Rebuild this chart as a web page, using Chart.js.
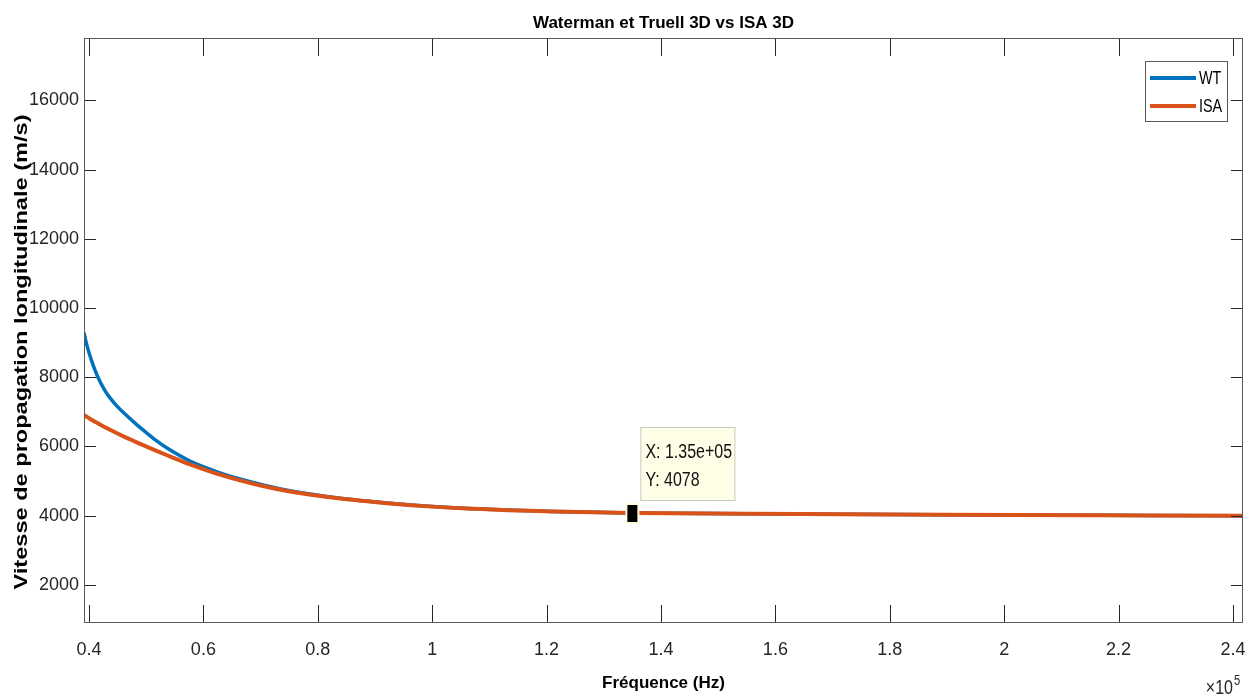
<!DOCTYPE html>
<html>
<head>
<meta charset="utf-8">
<script src="https://cdn.jsdelivr.net/npm/chart.js@4.4.1/dist/chart.umd.min.js"></script>
<style>
  html, body { margin: 0; padding: 0; background: #fff; }
  canvas { display: block; }
</style>
</head>
<body>
<canvas id="speedChart" width="1245" height="696"></canvas>
<script>
// Frequencies (Hz) and longitudinal speeds (m/s)
const freqHz   = [39130, 39475, 39825, 40175, 40525, 41049, 41923, 42798, 43672, 44896, 46295, 48043, 49967, 51715, 53639, 57660, 62032, 66403, 70775, 75146, 83889, 92632, 100000, 106096, 121133, 135000, 164320, 188800, 216780, 241750];
const wtSpeed  = [9290, 9028, 8812, 8618, 8445, 8206, 7874, 7614, 7403, 7166, 6936, 6676, 6407, 6176, 5954, 5579, 5290, 5059, 4871, 4718, 4502, 4358, 4265, 4210, 4124, 4078, 4050, 4028, 4012, 4000];
const isaSpeed = [6907, 6872, 6835, 6800, 6765, 6716, 6635, 6557, 6482, 6381, 6271, 6142, 6003, 5879, 5746, 5481, 5232, 5022, 4842, 4698, 4496, 4355, 4262, 4207, 4120, 4078, 4050, 4028, 4012, 4000];
const seriesNames = ["WT", "ISA"];

// Axis ticks
const xTickValues = [40000, 60000, 80000, 100000, 120000, 140000, 160000, 180000, 200000, 220000, 240000];
const yTickValues = [2000, 4000, 6000, 8000, 10000, 12000, 14000, 16000];

// Data tip
const tipFreq = 135000;
const tipSpeed = 4078;

const SANS = "'Liberation Sans', Arial, sans-serif";
const AXIS_COLOR = "#262626";

// Inward ticks on all four sides + box around the axes
const frameTicks = {
  id: "frameTicks",
  afterDatasetsDraw(chart) {
    const { ctx, chartArea: a, scales: { x, y } } = chart;
    ctx.save();
    ctx.strokeStyle = AXIS_COLOR;
    ctx.lineWidth = 1;
    ctx.beginPath();
    x.ticks.forEach(t => {
      const px = Math.round(x.getPixelForValue(t.value)) + 0.5;
      ctx.moveTo(px, a.bottom); ctx.lineTo(px, a.bottom - 18);
      ctx.moveTo(px, a.top); ctx.lineTo(px, a.top + 18);
    });
    y.ticks.forEach(t => {
      const py = Math.round(y.getPixelForValue(t.value)) + 0.5;
      ctx.moveTo(a.left, py); ctx.lineTo(a.left + 12, py);
      ctx.moveTo(a.right, py); ctx.lineTo(a.right - 12, py);
    });
    ctx.stroke();
    ctx.strokeStyle = "#5a5a5a";
    ctx.strokeRect(a.left + 0.5, a.top + 0.5, a.width - 1, a.height - 1);
    ctx.restore();
  }
};

// condensed text helper (the source uses a narrow face)
function narrowText(ctx, text, x, y, font, sx, align) {
  ctx.save();
  ctx.font = font;
  ctx.textAlign = align || "left";
  ctx.translate(x, y);
  ctx.scale(sx, 1);
  ctx.fillText(text, 0, 0);
  ctx.restore();
}

// MATLAB-like data tip
const dataTip = {
  id: "dataTip",
  afterDatasetsDraw(chart) {
    const { ctx, scales: { x, y } } = chart;
    const px = x.getPixelForValue(tipFreq);
    const py = y.getPixelForValue(tipSpeed);
    ctx.save();
    ctx.fillStyle = "#fdfde0";
    ctx.fillRect(px - 7, py - 10, 14, 21);
    ctx.fillStyle = "#000";
    ctx.fillRect(px - 5, py - 8, 10, 17);

    const bx = px + 8, bw = 95, bh = 74, by = py - 12 - bh;
    ctx.fillStyle = "#ffffe8";
    ctx.fillRect(bx, by, bw, bh);
    ctx.strokeStyle = "#c8c8c8";
    ctx.strokeRect(bx + 0.5, by + 0.5, bw - 1, bh - 1);
    const xs = tipFreq.toExponential(2).replace(/e([+-])(\d)$/, "e$10$2");
    ctx.fillStyle = "#111";
    ctx.textBaseline = "middle";
    narrowText(ctx, "X: " + xs, bx + 5, by + 25, "20px " + SANS, 0.8);
    narrowText(ctx, "Y: " + tipSpeed, bx + 5, by + 53, "20px " + SANS, 0.8);
    ctx.restore();
  }
};

// Legend box, y title and the x10^5 exponent
const extras = {
  id: "extras",
  afterDraw(chart) {
    const { ctx, chartArea: a } = chart;
    ctx.save();
    // legend
    const lw = 83, lh = 61, lx = a.right - 15 - lw, ly = a.top + 23;
    ctx.fillStyle = "#fff";
    ctx.fillRect(lx, ly, lw, lh);
    ctx.strokeStyle = "#5a5a5a";
    ctx.lineWidth = 1;
    ctx.strokeRect(lx + 0.5, ly + 0.5, lw - 1, lh - 1);
    chart.data.datasets.forEach((ds, i) => {
      const cy = ly + 17 + i * 28;
      ctx.strokeStyle = ds.borderColor;
      ctx.lineWidth = 4;
      ctx.beginPath();
      ctx.moveTo(lx + 5, cy); ctx.lineTo(lx + 51, cy);
      ctx.stroke();
      ctx.fillStyle = "#000";
      ctx.textBaseline = "middle";
      narrowText(ctx, ds.label, lx + 54, cy + 1, "18px " + SANS, 0.8);
    });

    // y axis title, stretched along its length like the source
    const text = "Vitesse de propagation longitudinale (m/s)";
    ctx.font = "bold 19px " + SANS;
    const w = ctx.measureText(text).width;
    ctx.translate(22, 352);
    ctx.rotate(-Math.PI / 2);
    ctx.scale(475 / w, 1);
    ctx.fillStyle = "#000";
    ctx.textAlign = "center";
    ctx.textBaseline = "middle";
    ctx.fillText(text, 0, 0);
    ctx.restore();

    // exponent label
    ctx.save();
    ctx.fillStyle = AXIS_COLOR;
    ctx.textBaseline = "alphabetic";
    narrowText(ctx, "\u00d710", 1233, 694, "20px " + SANS, 0.8, "right");
    narrowText(ctx, "5", 1234, 685, "14px " + SANS, 0.8, "left");
    ctx.restore();
  }
};

new Chart(document.getElementById("speedChart"), {
  type: "line",
  data: {
    datasets: [
      {
        label: seriesNames[0],
        data: freqHz.map((f, i) => ({ x: f, y: wtSpeed[i] })),
        borderColor: "#0072BD",
        borderWidth: 3.5,
        cubicInterpolationMode: "monotone",
        pointRadius: 0,
        fill: false,
        order: 2
      },
      {
        label: seriesNames[1],
        data: freqHz.map((f, i) => ({ x: f, y: isaSpeed[i] })),
        borderColor: "#D95319",
        borderWidth: 4,
        cubicInterpolationMode: "monotone",
        pointRadius: 0,
        fill: false,
        order: 1
      }
    ]
  },
  options: {
    responsive: false,
    animation: false,
    devicePixelRatio: 1,
    layout: { padding: { left: 0, right: 2, top: 0, bottom: 0 } },
    plugins: {
      legend: { display: false },
      tooltip: { enabled: false },
      title: {
        display: true,
        fullSize: false,
        text: "Waterman et Truell 3D vs ISA 3D",
        color: "#000",
        font: { family: SANS, size: 17, weight: "bold" },
        padding: { top: 13, bottom: 4.6 }
      }
    },
    scales: {
      x: {
        type: "linear",
        min: 39130,
        max: 241750,
        afterBuildTicks(scale) { scale.ticks = xTickValues.map(v => ({ value: v })); },
        grid: { display: false, drawTicks: false, tickLength: 0 },
        border: { display: false },
        ticks: {
          autoSkip: false,
          maxRotation: 0,
          padding: 16,
          color: AXIS_COLOR,
          font: { family: SANS, size: 18 },
          callback: v => String(+(v / 1e5).toFixed(1))
        },
        title: {
          display: true,
          text: "Fréquence (Hz)",
          color: "#000",
          font: { family: SANS, size: 17, weight: "bold" },
          padding: { top: 2, bottom: 2 }
        },
        afterFit(scale) {
          scale.height = 73;
          scale.paddingLeft = 0;
          scale.paddingRight = 0;
        }
      },
      y: {
        type: "linear",
        min: 900,
        max: 17800,
        afterBuildTicks(scale) { scale.ticks = yTickValues.map(v => ({ value: v })); },
        grid: { display: false, drawTicks: false, tickLength: 0 },
        border: { display: false },
        ticks: {
          autoSkip: false,
          padding: 5,
          color: AXIS_COLOR,
          font: { family: SANS, size: 18 },
          callback: v => String(v)
        },
        afterFit(scale) {
          scale.width = 84;
          scale.paddingTop = 0;
          scale.paddingBottom = 0;
        }
      }
    }
  },
  plugins: [frameTicks, dataTip, extras]
});
</script>
</body>
</html>
